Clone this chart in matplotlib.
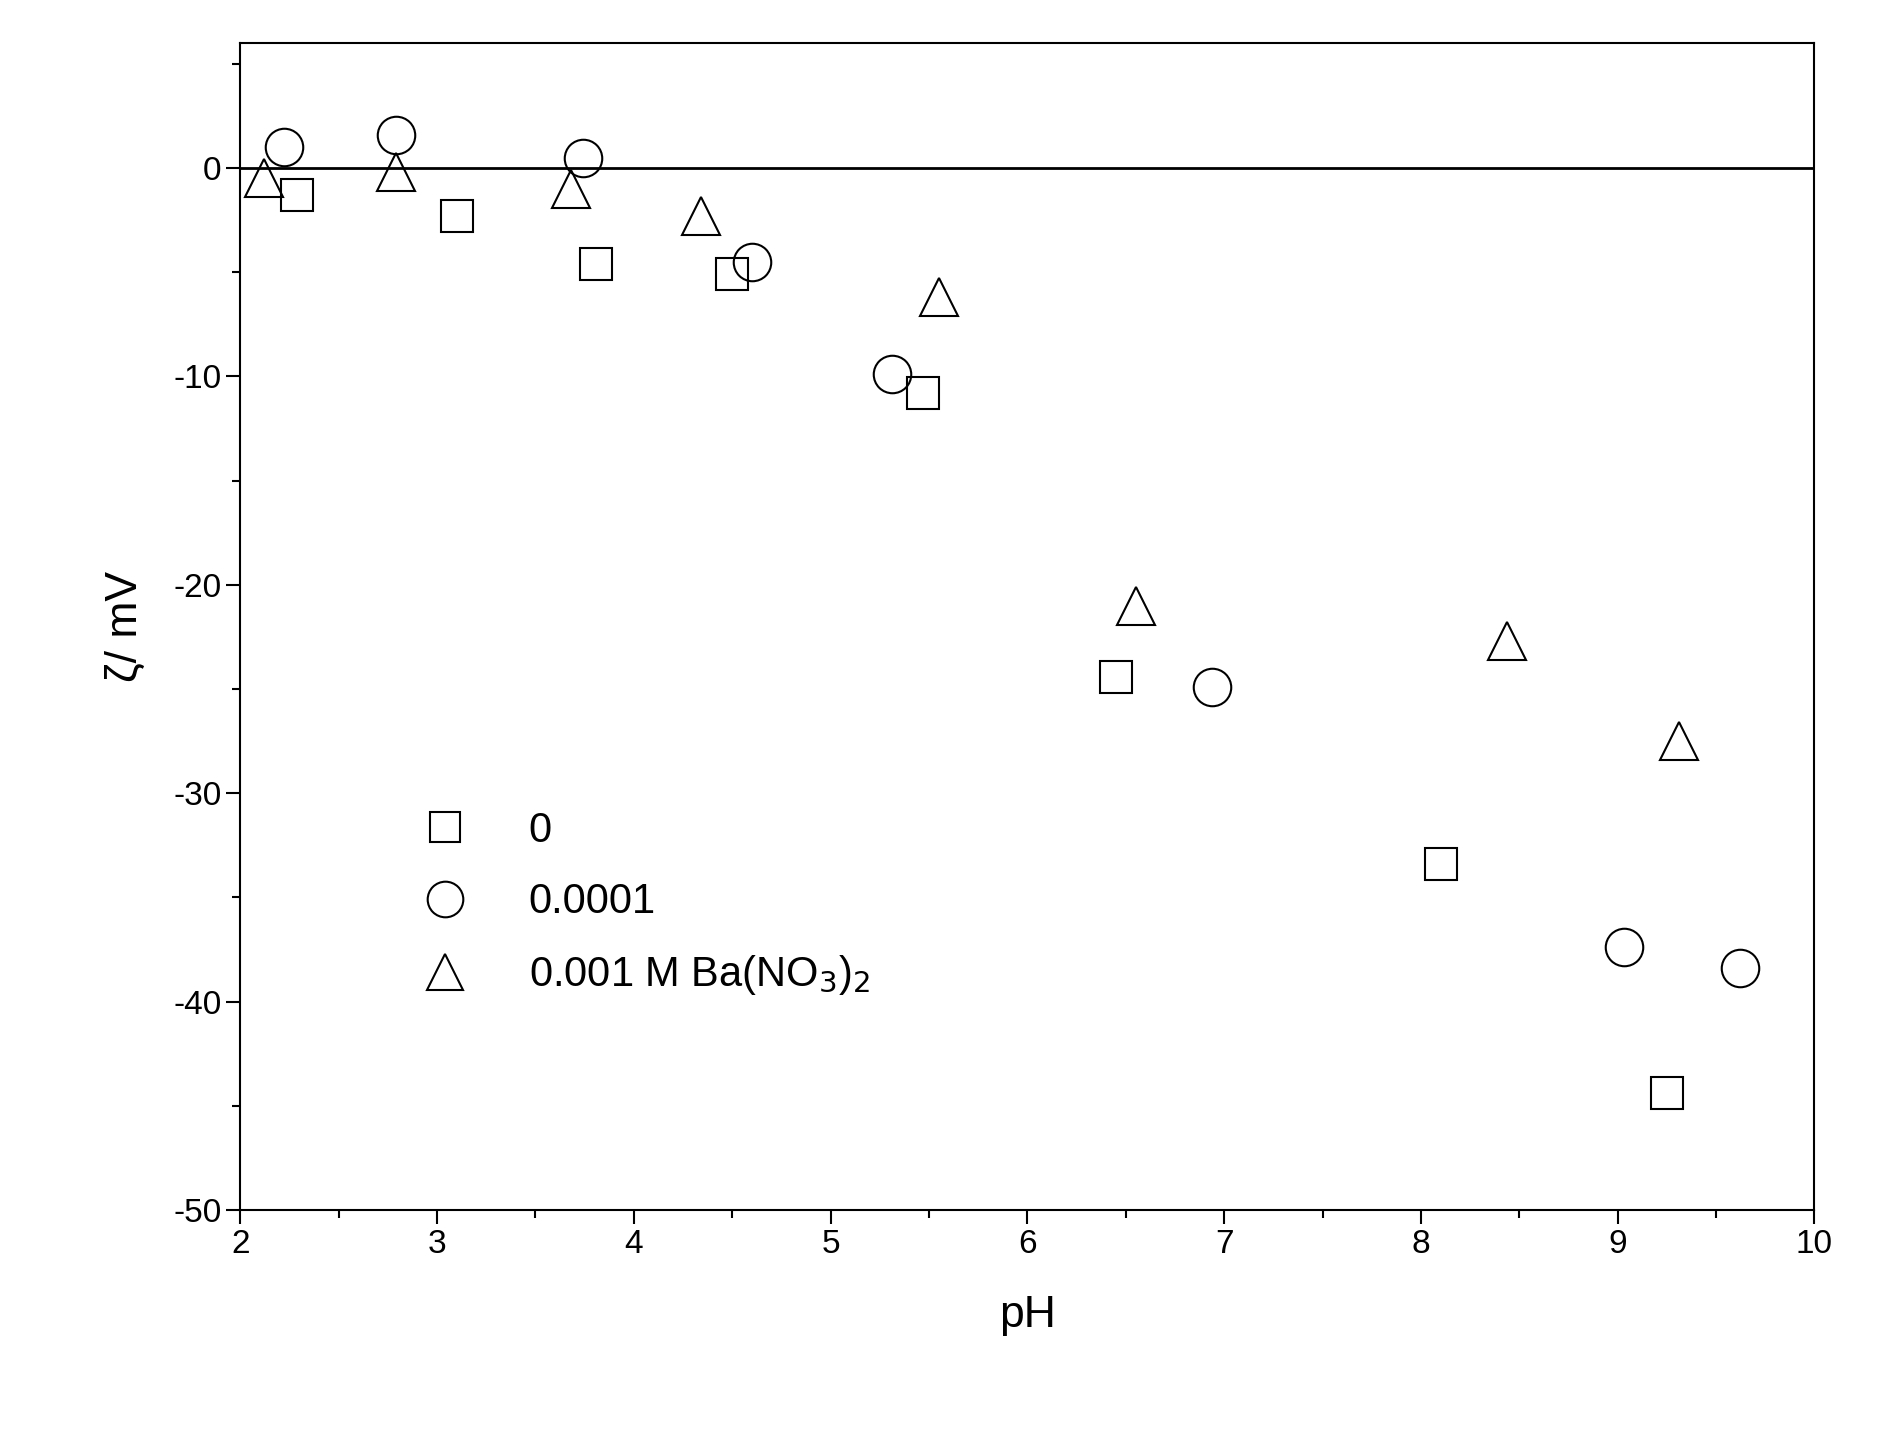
import matplotlib
matplotlib.use("Agg")
import matplotlib.pyplot as plt
from matplotlib.ticker import MultipleLocator

sq_x = [2.29, 3.10, 3.81, 4.50, 5.47, 6.45, 8.10, 9.25]
sq_y = [-1.3, -2.3, -4.6, -5.1, -10.8, -24.4, -33.4, -44.4]
ci_x = [2.22, 2.79, 3.74, 4.60, 5.31, 6.94, 9.03, 9.62]
ci_y = [1.0, 1.6, 0.5, -4.5, -9.9, -24.9, -37.4, -38.4]
tr_x = [2.12, 2.79, 3.68, 4.34, 5.55, 6.55, 8.44, 9.31]
tr_y = [-0.5, -0.2, -1.0, -2.3, -6.2, -21.0, -22.7, -27.5]
labels = ["0", "0.0001", "0.001 M Ba(NO$_3$)$_2$"]

plt.rcParams['font.family'] = ['Liberation Sans', 'DejaVu Sans']
plt.rcParams['axes.unicode_minus'] = False
fig = plt.figure(figsize=(18.92, 14.32), dpi=100)
ax = fig.add_axes([0.127, 0.155, 0.832, 0.815])
ms = 27
kw = dict(linestyle='none', markerfacecolor='none', markeredgecolor='black', markeredgewidth=1.5, markersize=ms)
ax.plot(sq_x, sq_y, marker='s', label=labels[0], **{**kw, 'markersize': ms*0.85})
ax.plot(ci_x, ci_y, marker='o', label=labels[1], **kw)
ax.plot(tr_x, tr_y, marker='^', label=labels[2], **kw)
ax.axhline(0, color='black', lw=2)
ax.set_xlim(2, 10)
ax.set_ylim(-50, 6)
ax.xaxis.set_major_locator(MultipleLocator(1))
ax.xaxis.set_minor_locator(MultipleLocator(0.5))
ax.yaxis.set_major_locator(MultipleLocator(10))
ax.yaxis.set_minor_locator(MultipleLocator(5))
ax.tick_params(which='major', length=10, width=1.5, labelsize=24, direction='out')
ax.tick_params(which='minor', length=6, width=1.5, direction='out')
for s in ax.spines.values():
    s.set_linewidth(1.5)
ax.set_xlabel('pH', fontsize=32, labelpad=25)
ax.set_ylabel('ζ/ mV', fontsize=32, labelpad=20)
ax.legend(loc='lower left', bbox_to_anchor=(0.08, 0.15), frameon=False, fontsize=30,
          handletextpad=1.0, labelspacing=0.75, markerscale=0.95)
fig.savefig('out.png', dpi=100)
